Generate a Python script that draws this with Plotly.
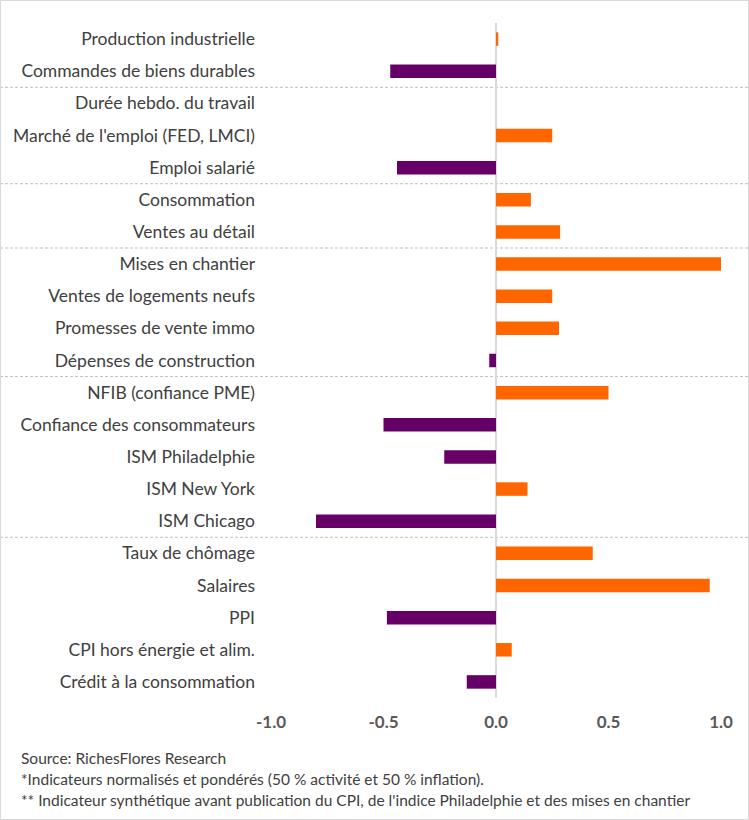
import plotly.graph_objects as go

categories = [
    "Production industrielle", "Commandes de biens durables",
    "Durée hebdo. du travail", "Marché de l'emploi (FED, LMCI)", "Emploi salarié",
    "Consommation", "Ventes au détail",
    "Mises en chantier", "Ventes de logements neufs", "Promesses de vente immo", "Dépenses de construction",
    "NFIB (confiance PME)", "Confiance des consommateurs", "ISM Philadelphie", "ISM New York", "ISM Chicago",
    "Taux de chômage", "Salaires", "PPI", "CPI hors énergie et alim.", "Crédit à la consommation",
]
values = [
    0.01, -0.47,
    0.0, 0.25, -0.44,
    0.155, 0.285,
    1.0, 0.25, 0.28, -0.03,
    0.50, -0.50, -0.23, 0.14, -0.80,
    0.43, 0.95, -0.485, 0.07, -0.13,
]
group_sizes = [2, 3, 2, 4, 5, 5]
tick_vals = [-1.0, -0.5, 0.0, 0.5, 1.0]
tick_text = ["-1.0", "-0.5", "0.0", "0.5", "1.0"]
notes = [
    "Source: RichesFlores Research",
    "*Indicateurs normalisés et pondérés (50 % activité et 50 % inflation).",
    "** Indicateur synthétique avant publication du CPI, de l'indice Philadelphie et des mises en chantier",
]

ORANGE = "#FF6600"
PURPLE = "#660066"
FONT = "Lato"

W, H = 749, 820
ml, mr, mt, mb = 271, 28, 23, 122
pw, ph = W - ml - mr, H - mt - mb

colors = [ORANGE if v >= 0 else PURPLE for v in values]

fig = go.Figure(go.Bar(
    y=categories, x=values, orientation="h",
    marker=dict(color=colors, line=dict(width=0)),
    hoverinfo="x+y",
))

shapes = []
pos = -0.5
for g in group_sizes[:-1]:
    pos += g
    shapes.append(dict(type="line", xref="paper", yref="y",
                       x0=-ml / pw, x1=1 + mr / pw, y0=pos, y1=pos,
                       line=dict(color="#BFBFBF", width=1, dash="3px,2px"), layer="below"))
shapes.append(dict(type="rect", xref="paper", yref="paper",
                   x0=(-ml + 0.5) / pw, x1=1 + (mr - 0.5) / pw,
                   y0=(-mb + 0.5) / ph, y1=1 + (mt - 0.5) / ph,
                   line=dict(color="#D9D9D9", width=1)))

annotations = []
for i, t in enumerate(notes):
    ypix = 758 + 21 * i
    annotations.append(dict(text=t, xref="paper", yref="paper",
                            x=(19 - ml) / pw, y=(H - mb - ypix) / ph,
                            xanchor="left", yanchor="middle", showarrow=False,
                            font=dict(family=FONT, size=15.5, color="#404040")))

fig.update_layout(
    width=W, height=H,
    margin=dict(l=ml, r=mr, t=mt, b=mb, pad=0),
    paper_bgcolor="white", plot_bgcolor="white",
    showlegend=False, bargap=0.58,
    font=dict(family=FONT, size=17.5, color="#404040"),
    shapes=shapes, annotations=annotations,
    xaxis=dict(range=[-1.0, 1.0], tickvals=tick_vals, ticktext=tick_text,
               showgrid=False, zeroline=True, zerolinecolor="#D9D9D9", zerolinewidth=2,
               showline=False, ticks="", ticklabelstandoff=12,
               tickfont=dict(family=FONT, size=17, color="#595959", weight="bold")),
    yaxis=dict(autorange="reversed", showgrid=False, zeroline=False, showline=False,
               ticks="", ticklabelstandoff=15,
               tickfont=dict(family=FONT, size=17.5, color="#404040")),
)

fig.write_html("out.html", config={"displayModeBar": False},
               post_script="document.body.style.margin='0px';document.body.style.padding='0px';document.documentElement.style.overflow='hidden';")
